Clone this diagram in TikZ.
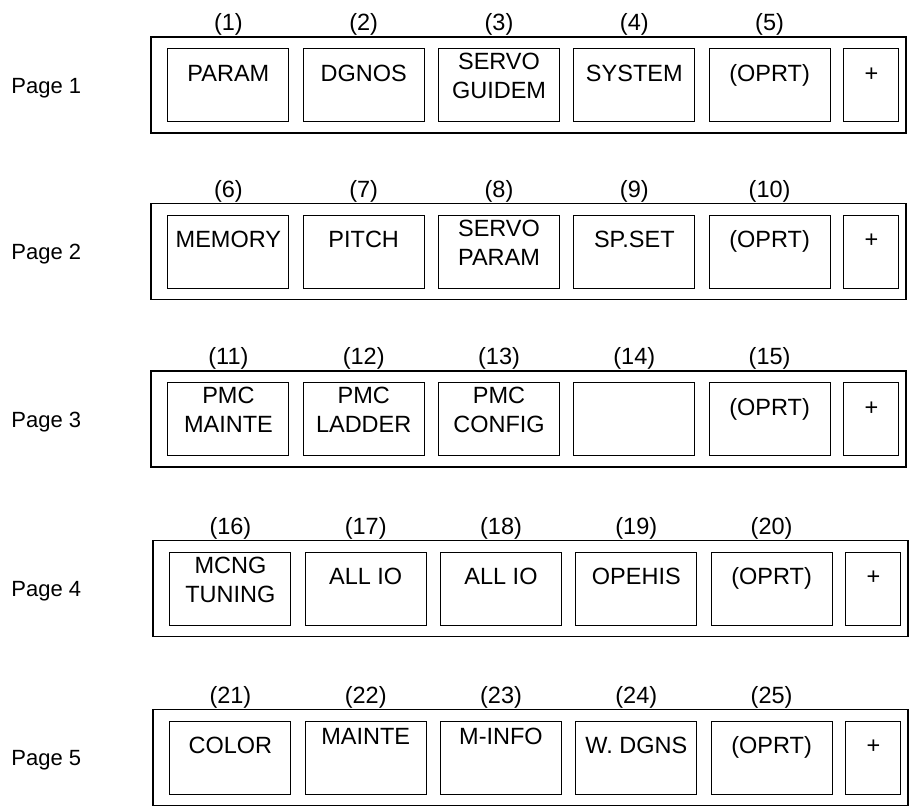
\documentclass[tikz,border=0pt]{standalone}
\usepackage{fontspec}
\setmainfont{Liberation Sans}
\usepackage{tikz}
\usetikzlibrary{positioning}

\newcommand{\keyfont}{\fontsize{23.5}{29}\selectfont}
\newcommand{\pagefont}{\fontsize{22}{26}\selectfont}

\begin{document}
\begin{tikzpicture}[
    x=1pt, y=-1pt,
    node distance=13.3pt,
    pagebox/.style={rectangle, draw, line width=1.2pt, minimum width=755pt, minimum height=96pt, inner sep=0pt},
    softkey/.style={rectangle, draw, line width=1pt, minimum width=121pt, minimum height=73pt, inner sep=0pt, align=center, font=\keyfont, text height=17pt, text depth=25pt},
    pluskey/.style={softkey, minimum width=55pt},
    twoline/.style={text height=46pt, text depth=19pt},
    hightext/.style={text depth=44pt},
    numlabel/.style={inner sep=0pt, font=\keyfont},
    pagelabel/.style={inner sep=0pt, font=\pagefont}
]
    \useasboundingbox (0,0) rectangle (910,807);

    % Page 1
    \node[pagebox] (framea) at (528.5,85) {};
    \node[pagelabel, left=69pt of framea, yshift=-3pt] (pagea) {Page 1};
    \node[softkey, right=17pt of framea.west] (param) {PARAM};
    \node[softkey, right=of param] (dgnos) {DGNOS};
    \node[softkey, twoline, right=of dgnos] (servoguide) {SERVO\\GUIDEM};
    \node[softkey, right=of servoguide] (system) {SYSTEM};
    \node[softkey, right=of system] (oprta) {(OPRT)};
    \node[pluskey, right=12.8pt of oprta] (plusa) {+};
    \node[numlabel, above=12pt of param] (nparam) {(1)};
    \node[numlabel, above=12pt of dgnos] (ndgnos) {(2)};
    \node[numlabel, above=12pt of servoguide] (nservoguide) {(3)};
    \node[numlabel, above=12pt of system] (nsystem) {(4)};
    \node[numlabel, above=12pt of oprta] (noprta) {(5)};

    % Page 2
    \node[pagebox] (frameb) at (528.5,251.5) {};
    \node[pagelabel, left=69pt of frameb, yshift=-3pt] (pageb) {Page 2};
    \node[softkey, right=17pt of frameb.west] (memory) {MEMORY};
    \node[softkey, right=of memory] (pitch) {PITCH};
    \node[softkey, twoline, right=of pitch] (servoparam) {SERVO\\PARAM};
    \node[softkey, right=of servoparam] (spset) {SP.SET};
    \node[softkey, right=of spset] (oprtb) {(OPRT)};
    \node[pluskey, right=12.8pt of oprtb] (plusb) {+};
    \node[numlabel, above=12pt of memory] (nmemory) {(6)};
    \node[numlabel, above=12pt of pitch] (npitch) {(7)};
    \node[numlabel, above=12pt of servoparam] (nservoparam) {(8)};
    \node[numlabel, above=12pt of spset] (nspset) {(9)};
    \node[numlabel, above=12pt of oprtb] (noprtb) {(10)};

    % Page 3
    \node[pagebox] (framec) at (528.5,419) {};
    \node[pagelabel, left=69pt of framec, yshift=-3pt] (pagec) {Page 3};
    \node[softkey, twoline, right=17pt of framec.west] (pmcmainte) {PMC\\MAINTE};
    \node[softkey, twoline, right=of pmcmainte] (pmcladder) {PMC\\LADDER};
    \node[softkey, twoline, right=of pmcladder] (pmcconfig) {PMC\\CONFIG};
    \node[softkey, right=of pmcconfig] (blankkey) {};
    \node[softkey, right=of blankkey] (oprtc) {(OPRT)};
    \node[pluskey, right=12.8pt of oprtc] (plusc) {+};
    \node[numlabel, above=12pt of pmcmainte] (npmcmainte) {(11)};
    \node[numlabel, above=12pt of pmcladder] (npmcladder) {(12)};
    \node[numlabel, above=12pt of pmcconfig] (npmcconfig) {(13)};
    \node[numlabel, above=12pt of blankkey] (nblankkey) {(14)};
    \node[numlabel, above=12pt of oprtc] (noprtc) {(15)};

    % Page 4
    \node[pagebox] (framed) at (530.5,588.5) {};
    \node[pagelabel, left=71pt of framed, yshift=-3pt] (paged) {Page 4};
    \node[softkey, twoline, right=17pt of framed.west] (mcng) {MCNG\\TUNING};
    \node[softkey, right=of mcng] (allioa) {ALL IO};
    \node[softkey, right=of allioa] (alliob) {ALL IO};
    \node[softkey, right=of alliob] (opehis) {OPEHIS};
    \node[softkey, right=of opehis] (oprtd) {(OPRT)};
    \node[pluskey, right=12.8pt of oprtd] (plusd) {+};
    \node[numlabel, above=12pt of mcng] (nmcng) {(16)};
    \node[numlabel, above=12pt of allioa] (nallioa) {(17)};
    \node[numlabel, above=12pt of alliob] (nalliob) {(18)};
    \node[numlabel, above=12pt of opehis] (nopehis) {(19)};
    \node[numlabel, above=12pt of oprtd] (noprtd) {(20)};

    % Page 5
    \node[pagebox] (framee) at (530.5,757.5) {};
    \node[pagelabel, left=71pt of framee, yshift=-3pt] (pagee) {Page 5};
    \node[softkey, right=17pt of framee.west] (color) {COLOR};
    \node[softkey, hightext, right=of color] (mainte) {MAINTE};
    \node[softkey, hightext, right=of mainte] (minfo) {M-INFO};
    \node[softkey, right=of minfo] (wdgns) {W. DGNS};
    \node[softkey, right=of wdgns] (oprte) {(OPRT)};
    \node[pluskey, right=12.8pt of oprte] (pluse) {+};
    \node[numlabel, above=12pt of color] (ncolor) {(21)};
    \node[numlabel, above=12pt of mainte] (nmainte) {(22)};
    \node[numlabel, above=12pt of minfo] (nminfo) {(23)};
    \node[numlabel, above=12pt of wdgns] (nwdgns) {(24)};
    \node[numlabel, above=12pt of oprte] (noprte) {(25)};

\end{tikzpicture}
\end{document}
